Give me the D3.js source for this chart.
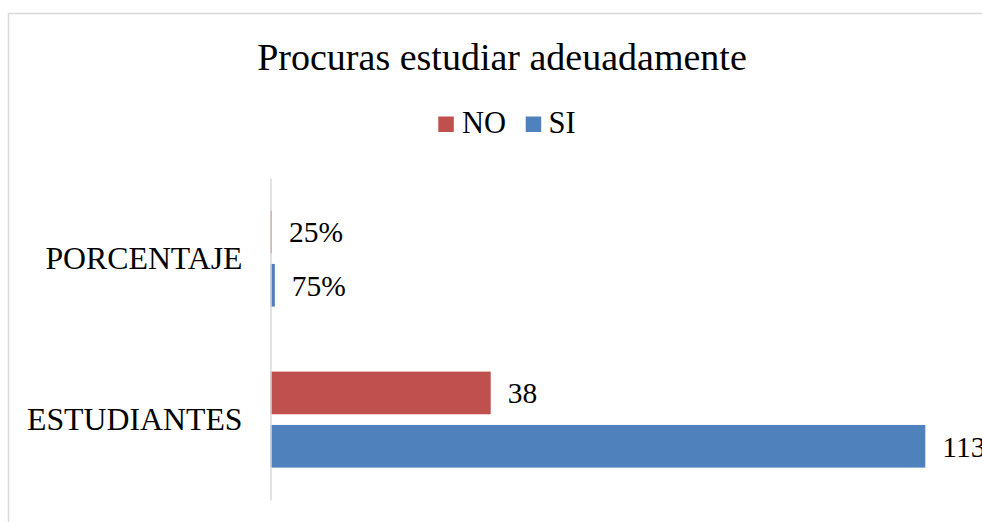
<!DOCTYPE html>
<html>
<head>
<meta charset="utf-8">
<script src="https://cdn.jsdelivr.net/npm/d3@7"></script>
<style>
  html, body { margin: 0; padding: 0; background: #fff; overflow: hidden; }
  svg { display: block; }
  svg text { font-family: "Liberation Serif", "Times New Roman", serif !important; fill: #000; }
</style>
</head>
<body>
<svg id="chart" width="982" height="522"></svg>
<script>
const title = "Procuras estudiar adeuadamente";
const categories = ["PORCENTAJE", "ESTUDIANTES"];
const seriesNames = ["NO", "SI"];
const noValues = [0.25, 38];
const siValues = [0.75, 113];
const noLabels = ["25%", "38"];
const siLabels = ["75%", "113"];
const colors = { NO: "#C0504D", SI: "#4F81BD" };

const SERIF = "'Liberation Serif', 'Times New Roman', serif";
const svg = d3.select("#chart");
const W = 982, H = 522;

// outer frame
svg.append("path")
  .attr("d", `M8.5,${H + 2} L8.5,13.5 L${W + 2},13.5`)
  .attr("fill", "none").attr("stroke", "#d9d9d9").attr("stroke-width", 1.5);

// title
svg.append("text")
  .attr("x", 502).attr("y", 69.5)
  .attr("text-anchor", "middle")
  .attr("font-family", SERIF)
  .style("font-size", "38px")
  .text(title);

// scales
const plotTop = 178, plotBottom = 500, axisX = 270.5;
const x = d3.scaleLinear().domain([0, 113]).range([axisX, 925.3]);
const yCat = d3.scaleBand().domain(categories).range([plotTop, plotBottom]).paddingInner(0).paddingOuter(0);
const ySer = d3.scaleBand().domain(seriesNames).range([32.6, 128.6]).paddingInner(0.2).paddingOuter(0);

const rows = categories.map((c, i) => ({
  cat: c,
  vals: [
    { s: "NO", v: noValues[i], label: noLabels[i] },
    { s: "SI", v: siValues[i], label: siLabels[i] }
  ]
}));

const g = svg.append("g");
const groups = g.selectAll("g.cat").data(rows).join("g")
  .attr("class", "cat")
  .attr("transform", d => `translate(0,${yCat(d.cat)})`);

groups.selectAll("rect").data(d => d.vals).join("rect")
  .attr("x", x(0))
  .attr("y", d => ySer(d.s))
  .attr("width", d => Math.max(0, x(d.v) - x(0)))
  .attr("height", ySer.bandwidth())
  .attr("fill", d => colors[d.s]);

groups.selectAll("text.val").data(d => d.vals).join("text")
  .attr("class", "val")
  .attr("x", d => x(d.v) + 17)
  .attr("y", d => ySer(d.s) + ySer.bandwidth() / 2 + 10.5)
  .attr("font-family", SERIF)
  .style("font-size", "29.5px")
  .text(d => d.label);

// axis (category axis line at x=0)
const yAxis = d3.axisLeft(yCat).tickSize(0).tickPadding(28);
const axG = svg.append("g").attr("transform", `translate(${axisX},0)`).call(yAxis);
axG.attr("font-family", SERIF);
axG.select(".domain").attr("stroke", "#d9d9d9").attr("stroke-width", 1.5);
axG.selectAll(".tick text")
  .style("font-size", "31.8px")
  .attr("fill", "#000")
  .attr("dy", "0.32em");

// legend
const legend = svg.append("g").attr("font-family", SERIF);
const legendItems = [
  { s: "NO", sx: 438.3, tx: 462 },
  { s: "SI", sx: 525.7, tx: 548.5 }
];
legend.selectAll("rect").data(legendItems).join("rect")
  .attr("x", d => d.sx).attr("y", 116.5)
  .attr("width", 15.5).attr("height", 15.5)
  .attr("fill", d => colors[d.s]);
legend.selectAll("text").data(legendItems).join("text")
  .attr("x", d => d.tx).attr("y", 132.7)
  .style("font-size", "30.5px")
  .text(d => d.s);
</script>
</body>
</html>
